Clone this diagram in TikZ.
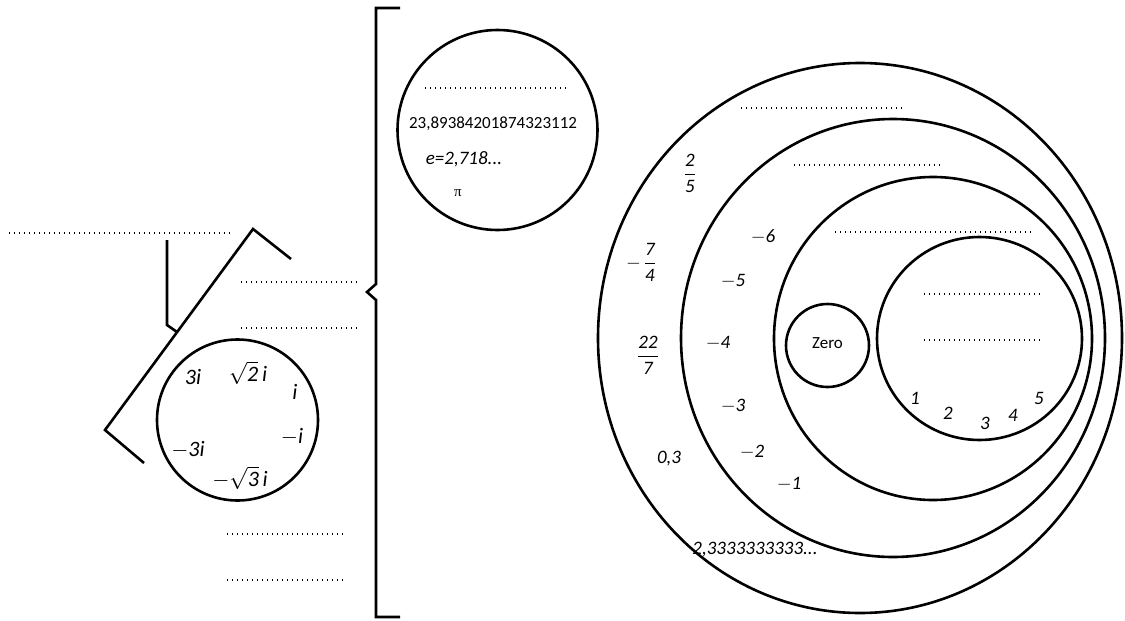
\RequirePackage{fix-cm}
\documentclass[tikz,border=0pt]{standalone}
\usepackage{amsmath}
\usepackage{fontspec}
\setmainfont{Carlito}
\newfontfamily\serifpi{Liberation Serif}
\tikzset{
  ring/.style={draw, line width=2.6pt},
  brk/.style={draw, line width=2.6pt, line join=miter},
  blank/.style={line width=1.6pt, dash pattern=on 1.3pt off 3.7pt},
  lbl/.style={font=\fontsize{19}{22}\selectfont\itshape, inner sep=0pt},
  big/.style={font=\fontsize{22}{25}\selectfont\itshape, inner sep=0pt},
  up/.style={font=\fontsize{17}{20}\selectfont, inner sep=0pt}
}
\begin{document}
\begin{tikzpicture}[x=1pt,y=-1pt]
\useasboundingbox (0,0) rectangle (1125,621);

% ---------- left bracket group ----------
\draw[brk] (291,259) -- (253,229) -- (105,430) -- (144,463);
\draw[brk] (167,240) -- (167,325) -- (177,332);
\draw[blank] (9,233) -- (233,233);
\draw[blank] (241,282) -- (357,282);
\draw[blank] (241,328) -- (357,328);
\draw[blank] (227,534) -- (343,534);
\draw[blank] (227,580) -- (343,580);

% imaginary circle
\draw[ring] (237.5,420) circle [radius=80.5pt];
\node[big] (i1) at (193,377) {3i};
\node[big] (i2) at (248,373) {$\sqrt{\textit{2}}\,$\textit{i}};
\node[big] (i3) at (295,392) {i};
\node[big] (i4) at (292,437) {$-$i};
\node[big] (i5) at (188,450) {$-$3i};
\node[big] (i6) at (240,478) {$-\sqrt{\textit{3}}\,$\textit{i}};

% ---------- big brace ----------
\draw[brk] (400,8) -- (376,8) -- (376,284) -- (367,292) -- (376,300) -- (376,617) -- (400,617);

% irrational circle
\draw[ring] (497.5,130) circle [radius=100pt];
\draw[blank] (425,88) -- (567,88);
\node[up] (r1) at (493,124) {23,89384201874323112};
\node[lbl] (r2) at (464,159) {e=2,718...};
\node[inner sep=0pt, font=\fontsize{15}{18}\selectfont\serifpi] (r3) at (458,193) {π};

% ---------- nested sets ----------
\draw[ring] (860,338) ellipse [x radius=262pt, y radius=275pt];
\draw[ring] (893,338) ellipse [x radius=212pt, y radius=219pt];
\draw[ring] (933,338.5) ellipse [x radius=159pt, y radius=161.5pt];
\draw[ring] (979.5,338.5) ellipse [x radius=102.5pt, y radius=101.5pt];
\draw[ring] (827.5,345.5) circle [radius=41.5pt];

\draw[blank] (741,108) -- (903,108);
\draw[blank] (794,165) -- (941,165);
\draw[blank] (835,232) -- (1033,232);
\draw[blank] (924,294) -- (1040,294);
\draw[blank] (924,340) -- (1040,340);

\node[up] (zero) at (827.5,343) {Zero};

% naturals
\node[lbl] (n1) at (915,398) {1};
\node[lbl] (n2) at (948,413) {2};
\node[lbl] (n3) at (985,423) {3};
\node[lbl] (n4) at (1013,415) {4};
\node[lbl] (n5) at (1039,398) {5};

% integers
\node[lbl] (z6) at (763,237) {$-$6};
\node[lbl] (z5) at (733,281) {$-$5};
\node[lbl] (z4) at (718,343) {$-$4};
\node[lbl] (z3) at (733,406) {$-$3};
\node[lbl] (z2) at (752,452) {$-$2};
\node[lbl] (z1) at (789,484) {$-$1};

% rationals
\node[lbl] (q1) at (690,173) {$\displaystyle\frac{\textit{2}}{\textit{5}}$};
\node[lbl] (q2) at (641,262) {$-\,\displaystyle\frac{\textit{7}}{\textit{4}}$};
\node[lbl] (q3) at (648,355) {$\displaystyle\frac{\textit{22}}{\textit{7}}$};
\node[lbl] (q4) at (669,459) {0,3};
\node[lbl] (q5) at (755,550) {2,3333333333...};
\end{tikzpicture}
\end{document}
